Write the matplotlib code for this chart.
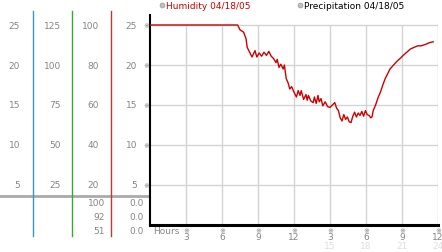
import matplotlib
matplotlib.use('Agg')
import matplotlib.pyplot as plt

# humidity readings, 04/18/05 (hours since midnight, value)
hours = [0, 7.3, 7.5, 7.8, 8.0, 8.1, 8.3, 8.5, 8.75, 8.9, 9.1, 9.3, 9.5, 9.7, 9.9,
         10.1, 10.3, 10.5, 10.6, 10.75, 10.9, 11.1, 11.2, 11.35, 11.5, 11.65, 11.8,
         12.0, 12.2, 12.35, 12.5, 12.6, 12.8, 13.0, 13.1, 13.2, 13.4, 13.6, 13.7,
         13.85, 14.0, 14.1, 14.25, 14.4, 14.6, 14.8, 15.0, 15.2, 15.4, 15.55, 15.7,
         15.85, 16.0, 16.15, 16.3, 16.45, 16.6, 16.75, 16.9, 17.05, 17.2, 17.35,
         17.5, 17.65, 17.8, 17.95, 18.1, 18.25, 18.4, 18.5, 18.6, 18.8, 19.0, 19.2,
         19.4, 19.6, 19.8, 20.0, 20.3, 20.6, 20.9, 21.1, 21.4, 21.7, 22.0, 22.3,
         22.6, 23.0, 23.3, 23.6]
humidity = [25, 25, 24.4, 24.1, 23.3, 22.2, 21.6, 21.0, 21.8, 21.0, 21.5, 21.1, 21.6,
            21.2, 21.7, 21.1, 20.8, 20.3, 20.7, 19.7, 20.1, 19.5, 20.0, 18.3, 17.8,
            17.0, 17.3, 16.6, 16.0, 16.8, 16.2, 16.8, 15.7, 16.3, 15.6, 16.2, 15.5,
            15.3, 16.0, 15.2, 16.2, 15.4, 15.8, 14.9, 15.4, 14.8, 14.7, 15.0, 15.3,
            14.6, 14.3, 13.4, 13.0, 13.8, 13.2, 13.5, 12.9, 12.8, 13.6, 14.1, 13.5,
            14.0, 13.7, 14.2, 13.6, 14.3, 13.8, 13.7, 13.4, 13.5, 14.3, 15.0, 15.9,
            16.6, 17.5, 18.3, 18.9, 19.5, 20.0, 20.5, 20.9, 21.2, 21.6, 22.0, 22.2,
            22.4, 22.4, 22.6, 22.8, 22.9]

y_grid = [5, 10, 15, 20, 25]
x_grid = [3, 6, 9, 12, 15, 18, 21, 24]
x_labels = ['3', '6', '9', '12', '3', '6', '9', '12']
x_labels2 = {15: '15', 18: '18', 21: '21', 24: '24'}

# left-hand scale columns
col1 = ['25', '20', '15', '10', '5']
col2 = ['125', '100', '75', '50', '25']
col3 = ['100', '80', '60', '40', '20']
col4 = ['25', '20', '15', '10', '5']
low3 = ['100', '92', '51']
low4 = ['0.0', '0.0', '0.0']

W, H = 442, 253
gray = '#858585'
red = '#cc0000'

fig = plt.figure(figsize=(W / 100, H / 100), dpi=100)
fig.patch.set_facecolor('white')

# overlay in pixel space for the side panel and legend
ov = fig.add_axes([0, 0, 1, 1])
ov.set_xlim(0, W)
ov.set_ylim(H, 0)
ov.axis('off')

ax = fig.add_axes([150 / W, 27 / H, 288 / W, 210 / H])
ax.set_xlim(0, 24)
ax.set_ylim(0, 26.25)
for s in ['top', 'right']:
    ax.spines[s].set_visible(False)
ax.spines['left'].set_linewidth(1.5)
ax.spines['bottom'].set_linewidth(2.2)
ax.set_xticks([])
ax.set_yticks([])

ax.hlines(y_grid, 0, 24.2, color='#d4d4d4', lw=1, zorder=1)
ax.vlines(x_grid, 0, 25, color='#d4d4d4', lw=1, zorder=1)
ax.plot(hours, humidity, color=red, lw=1, zorder=3)

# y markers
for v in y_grid:
    ax.text(-4 / 288, v, '※', transform=ax.get_yaxis_transform(), fontsize=5,
            color='#808080', ha='center', va='center')

# x tick labels
tr = ax.get_xaxis_transform()
for h, lab in zip(x_grid, x_labels):
    ax.text(h, -5 / 210, '※', transform=tr, fontsize=5, color='#808080',
            ha='center', va='center', clip_on=False)
    ax.text(h, -12 / 210, lab, transform=tr, fontsize=6.5, color=gray,
            ha='center', va='center', clip_on=False)
    if h in x_labels2:
        ax.text(h, -21 / 210, x_labels2[h], transform=tr, fontsize=6.5,
                color='#dedede', ha='center', va='center', clip_on=False)
ov.text(153, 232, 'Hours', fontsize=6.5, color=gray, ha='left', va='center')

# side panel
ov.plot([0, 149], [197, 197], color='#aaaaaa', lw=2)
ov.plot([33, 33], [12, 237], color='#3399cc', lw=1)
ov.plot([72, 72], [12, 237], color='#33aa33', lw=1)
ov.plot([111, 111], [12, 237], color='#cc3333', lw=1)
for i in range(5):
    yy = 26 + 40 * i
    ov.text(20, yy, col1[i], fontsize=6.5, color=gray, ha='right', va='center')
    ov.text(61, yy, col2[i], fontsize=6.5, color=gray, ha='right', va='center')
    ov.text(99, yy, col3[i], fontsize=6.5, color=gray, ha='right', va='center')
    ov.text(137, yy, col4[i], fontsize=6.5, color=gray, ha='right', va='center')
for i in range(3):
    yy = 204 + 14 * i
    ov.text(105, yy, low3[i], fontsize=6.5, color=gray, ha='right', va='center')
    ov.text(144, yy, low4[i], fontsize=6.5, color=gray, ha='right', va='center')

# legend
ov.plot([162], [6], 'o', ms=3.5, mfc='#c0c0c0', mec='#999999', mew=0.5)
ov.text(166, 6.5, 'Humidity 04/18/05', fontsize=6.5, color=red, ha='left', va='center')
ov.plot([300], [6], 'o', ms=3.5, mfc='#c0c0c0', mec='#999999', mew=0.5)
ov.text(304, 6.5, 'Precipitation 04/18/05', fontsize=6.5, color='black', ha='left', va='center')

fig.savefig('out.png', dpi=100)
